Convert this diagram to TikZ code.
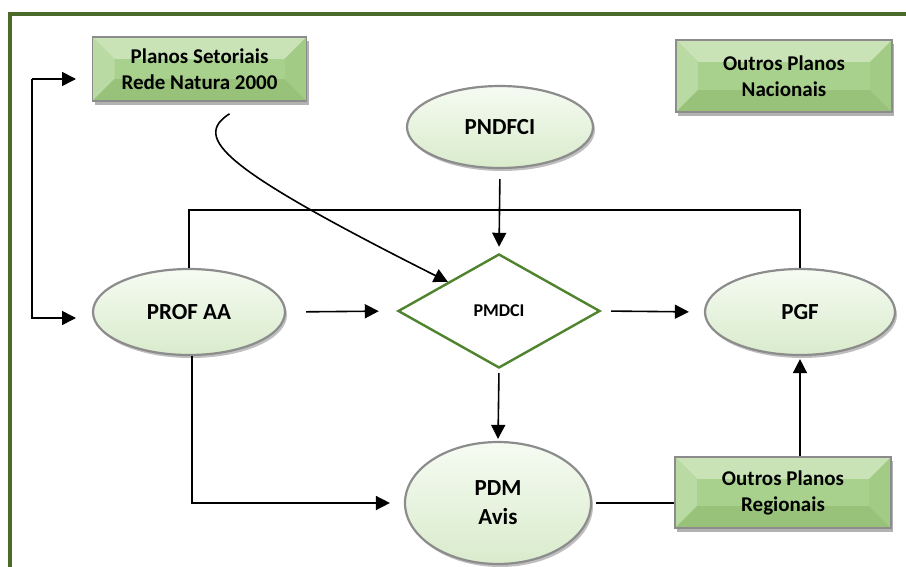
\documentclass[tikz,border=0pt]{standalone}
\usepackage{fontspec}
\setmainfont{Carlito}
\usetikzlibrary{arrows.meta,shapes.geometric,shadows,calc}
\definecolor{framegreen}{HTML}{4A6B2A}
\definecolor{diagreen}{HTML}{4F832E}
\definecolor{boxmid}{HTML}{A9D18E}
\definecolor{boxtop}{HTML}{C9E3B7}
\definecolor{boxleft}{HTML}{BADAA3}
\definecolor{boxbot}{HTML}{98C27A}
\definecolor{boxright}{HTML}{A2CB86}
\definecolor{elltop}{HTML}{F6FBF2}
\definecolor{ellmid}{HTML}{E6F2DD}
\definecolor{ellbot}{HTML}{D9EBCC}
\definecolor{edgegray}{HTML}{8C8C8C}
\begin{document}
\begin{tikzpicture}[x=1pt,y=-1pt,
  every node/.style={text=black},
  arr/.style={-{Triangle[length=14pt,width=14pt]}, line width=1.6pt},
  plain/.style={line width=1.6pt},
  ellnode/.style={ellipse, draw=edgegray, line width=2.2pt, top color=elltop, middle color=ellmid, bottom color=ellbot,
     font=\fontsize{23}{27}\selectfont\bfseries, align=center, inner sep=0pt,
     drop shadow={shadow xshift=2pt, shadow yshift=-3pt, opacity=0.25, fill=black}},
  bevelbox/.style={rectangle, draw=edgegray, line width=1.6pt, fill=boxmid,
     minimum width=214pt, minimum height=64pt, inner sep=0pt, align=center,
     font=\fontsize{21}{26}\selectfont\bfseries,
     drop shadow={shadow xshift=2pt, shadow yshift=-4pt, opacity=0.3, fill=black},
     path picture={
       \fill[boxtop] (path picture bounding box.north west) -- (path picture bounding box.north east)
          -- ([xshift=-22pt,yshift=-22pt]path picture bounding box.north east)
          -- ([xshift=22pt,yshift=-22pt]path picture bounding box.north west) -- cycle;
       \fill[boxleft] (path picture bounding box.north west) -- (path picture bounding box.south west)
          -- ([xshift=22pt,yshift=22pt]path picture bounding box.south west)
          -- ([xshift=22pt,yshift=-22pt]path picture bounding box.north west) -- cycle;
       \fill[boxbot] (path picture bounding box.south west) -- (path picture bounding box.south east)
          -- ([xshift=-22pt,yshift=22pt]path picture bounding box.south east)
          -- ([xshift=22pt,yshift=22pt]path picture bounding box.south west) -- cycle;
       \fill[boxright] (path picture bounding box.north east) -- (path picture bounding box.south east)
          -- ([xshift=-22pt,yshift=22pt]path picture bounding box.south east)
          -- ([xshift=-22pt,yshift=-22pt]path picture bounding box.north east) -- cycle;
       \fill[boxmid] ([xshift=22pt,yshift=-22pt]path picture bounding box.north west) rectangle
          ([xshift=-22pt,yshift=22pt]path picture bounding box.south east);
     }}
]
\useasboundingbox (0,0) rectangle (906,567);
\fill[white] (0,0) rectangle (906,567);
% frame
\draw[framegreen, line width=4pt] (10,570) -- (10,14) -- (910,14);

% nodes
\node[bevelbox, minimum height=64pt] (setor) at (199.5,69) {Planos Setoriais\\Rede Natura 2000};
\node[bevelbox, minimum width=216pt, minimum height=72pt] (nac) at (784,76) {Outros Planos\\Nacionais};
\node[bevelbox, minimum width=216pt, minimum height=71pt] (regio) at (783,492.5) {Outros Planos\\Regionais};
\node[ellnode, minimum width=186pt, minimum height=82pt] (pndfci) at (500,127) {PNDFCI};
\node[ellnode, minimum width=192pt, minimum height=86pt] (prof) at (189,312) {PROF AA};
\node[ellnode, minimum width=190pt, minimum height=86pt] (pgf) at (800,312) {PGF};
\node[ellnode, minimum width=186pt, minimum height=122pt] (pdm) at (498,503) {PDM\\[2pt]Avis};
\node[diamond, draw=diagreen, line width=2.4pt, fill=white, minimum width=202pt, minimum height=114pt,
      inner sep=0pt, font=\fontsize{18}{21}\selectfont\bfseries] (pmdci) at (499,311) {PMDCI};

% helper coordinates
\coordinate (topline) at (499,210);
\coordinate (bl) at (32,79);
\coordinate (blt) at (76,79);
\coordinate (blb) at (76,318);

% connectors
\draw[plain] (prof.north) |- (topline) -| (pgf.north);
\draw[arr, shorten <=10pt, shorten >=6pt] (pndfci.south) -- (pmdci.north);
\draw[arr] ([xshift=30pt,yshift=-12pt]setor.south) .. controls (192,138) and (222,168) .. (pmdci.north west);
\draw[arr, shorten <=20pt, shorten >=18pt] (prof.east) -- (pmdci.west);
\draw[arr, shorten <=10pt, shorten >=15pt] (pmdci.east) -- (pgf.west);
\draw[arr, shorten <=4pt, shorten >=2pt] (pmdci.south) -- (pdm.north);
\draw[arr, shorten >=14pt] ([xshift=3pt]prof.south) |- (pdm.west);
\draw[plain, shorten <=4pt] (pdm.east) -- (regio.west |- pdm.east);
\draw[arr, shorten >=3pt] (regio.north -| pgf.south) -- (pgf.south);
\draw[arr] (bl) -- (blt);
\draw[arr] (bl) |- (blb);
\end{tikzpicture}
\end{document}
